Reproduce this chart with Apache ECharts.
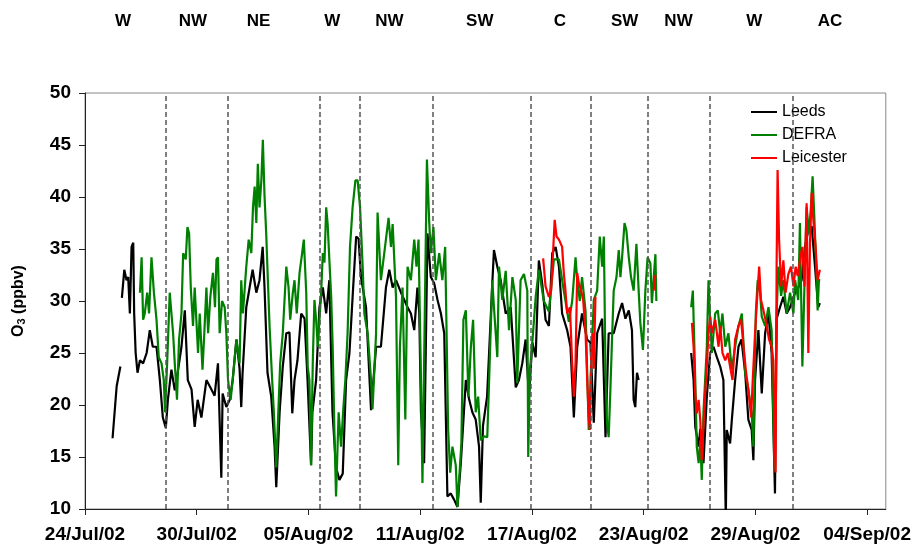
<!DOCTYPE html>
<html>
<head>
<meta charset="utf-8">
<script src="https://cdn.jsdelivr.net/npm/echarts@6/dist/echarts.min.js"></script>
<style>
html,body{margin:0;padding:0;background:#fff;}
#chart{width:914px;height:546px;}
</style>
</head>
<body>
<div id="chart"></div>
<script>
// x = days since 24/Jul/02 00:00, y = O3 (ppbv)
const tickLabels = ['24/Jul/02','30/Jul/02','05/Aug/02','11/Aug/02','17/Aug/02','23/Aug/02','29/Aug/02','04/Sep/02'];
const tickDays = [0, 6, 12, 18, 24, 30, 36, 42];
const sectorBounds = [4.32, 7.64, 12.59, 14.73, 18.70, 23.93, 27.14, 30.23, 33.53, 38.03];
const windLabels = ['W','NW','NE','W','NW','SW','C','SW','NW','W','AC'];
const windDays = [2.04, 5.79, 9.32, 13.28, 16.34, 21.2, 25.5, 28.98, 31.87, 35.94, 40.0];

const leeds = [
[1.48,16.8],[1.70,21.8],[1.90,23.7],[1.94,null],
[1.98,30.3],[2.11,33.0],[2.23,32.0],[2.32,32.3],[2.41,28.8],[2.50,35.2],[2.59,35.6],[2.64,28.8],[2.72,25.0],[2.82,23.1],
[2.95,24.3],[3.12,24.0],[3.31,25.0],[3.48,27.2],[3.64,25.6],[3.84,25.6],[4.02,22.4],[4.18,18.8],[4.34,17.8],[4.45,20.5],
[4.64,23.4],[4.82,21.4],[5.00,23.4],[5.18,25.6],[5.36,29.1],[5.52,22.4],[5.72,21.5],[5.89,17.9],[6.05,20.5],[6.25,18.8],
[6.52,22.4],[6.79,21.5],[6.96,20.9],[7.14,24.0],[7.32,13.0],[7.39,21.1],[7.59,19.8],[7.77,20.5],[7.93,22.4],[8.13,26.3],
[8.30,23.5],[8.39,19.8],[8.46,23.0],[8.66,29.4],[8.84,31.3],[9.00,33.0],[9.20,30.8],[9.37,32.0],[9.54,35.2],[9.64,31.3],
[9.80,23.1],[10.00,20.8],[10.18,16.0],[10.27,12.1],[10.45,19.3],[10.62,23.7],[10.81,26.9],[10.98,27.0],[11.13,19.2],[11.25,22.4],
[11.41,24.3],[11.61,28.8],[11.79,28.3],[11.95,22.4],[12.14,14.2],[12.21,19.3],[12.41,22.4],[12.59,29.4],[12.77,31.3],[12.95,28.8],
[13.12,32.0],[13.29,19.3],[13.48,14.0],[13.66,12.8],[13.84,13.4],[14.02,22.4],[14.20,25.0],[14.37,30.4],[14.56,36.2],[14.69,36.0],
[14.82,32.3],[15.09,29.4],[15.36,19.5],[15.63,25.6],[15.89,25.6],[16.16,31.3],[16.34,33.0],[16.52,31.3],[16.70,32.0],[16.97,30.8],
[17.32,29.4],[17.50,28.8],[17.68,27.2],[17.85,31.3],[17.95,28.8],[18.04,19.3],[18.21,14.4],[18.39,36.5],[18.57,32.3],[18.75,31.7],
[18.93,30.1],[19.11,28.8],[19.29,26.9],[19.46,11.2],[19.64,11.5],[19.82,10.9],[20.00,10.2],[20.18,14.4],[20.45,22.4],[20.62,20.6],
[20.80,19.3],[20.98,18.6],[21.16,16.0],[21.25,10.6],[21.37,18.0],[21.59,20.8],[21.86,31.3],[21.96,34.9],[22.14,33.3],[22.32,32.0],
[22.59,28.8],[22.86,29.4],[23.13,21.7],[23.30,22.4],[23.48,24.0],[23.66,26.3],[23.84,20.8],[24.02,26.0],[24.20,24.6],[24.37,33.9],
[24.55,31.7],[24.73,28.2],[24.91,27.6],[25.09,34.6],[25.27,35.2],[25.45,33.3],[25.62,28.8],[25.89,27.2],[26.07,25.6],[26.25,18.8],
[26.43,25.6],[26.69,28.8],[26.96,26.3],[27.14,26.0],[27.32,18.3],[27.50,26.9],[27.77,28.3],[27.95,16.9],[28.12,26.9],[28.39,26.9],
[28.66,28.8],[28.84,29.8],[29.02,28.3],[29.20,29.1],[29.37,27.2],[29.46,20.5],[29.55,19.8],[29.64,23.1],[29.73,22.4],[31.0,null],
[32.55,25.0],[32.68,22.4],[32.77,17.9],[32.95,16.0],[33.04,17.7],[33.21,14.4],[33.39,20.8],[33.57,25.0],[33.75,25.6],[33.93,24.6],
[34.11,23.7],[34.28,22.4],[34.41,9.0],[34.46,17.6],[34.64,16.3],[34.73,18.5],[34.91,22.4],[35.09,25.6],[35.25,26.3],[35.45,23.1],
[35.62,18.6],[35.80,17.6],[35.89,14.7],[35.98,22.4],[36.16,27.2],[36.34,21.1],[36.52,26.9],[36.70,28.8],[36.87,25.0],[37.05,11.5],
[37.14,28.3],[37.32,29.4],[37.50,30.4],[37.68,28.8],[37.86,29.4],[38.13,30.8],[38.30,31.3],[38.48,32.0],[38.66,35.2],[38.84,36.8],
[39.02,37.2],[39.20,33.3],[39.37,29.4],[39.46,29.8]
];

const defra = [
[2.95,30.8],[3.04,34.2],[3.12,28.2],[3.21,28.8],[3.34,30.8],[3.44,28.8],[3.57,34.2],[3.70,30.8],[3.84,28.2],[3.96,24.6],
[4.11,24.0],[4.23,22.4],[4.30,19.3],[4.41,24.0],[4.55,30.8],[4.73,26.9],[4.82,24.0],[4.94,20.5],[5.05,26.3],[5.18,28.8],
[5.27,34.6],[5.41,34.0],[5.50,37.1],[5.59,36.5],[5.68,31.3],[5.80,27.6],[5.89,31.3],[6.07,25.0],[6.16,28.8],[6.31,23.4],
[6.39,26.3],[6.52,31.3],[6.61,26.9],[6.73,30.4],[6.87,32.7],[6.98,29.4],[7.06,34.0],[7.14,34.2],[7.23,26.9],[7.36,30.0],
[7.50,29.4],[7.59,26.9],[7.68,22.4],[7.82,20.5],[7.93,22.4],[8.13,26.3],[8.30,24.0],[8.39,32.0],[8.48,28.8],[8.66,33.3],
[8.79,35.9],[8.93,34.6],[9.02,39.0],[9.11,41.0],[9.20,37.5],[9.28,43.2],[9.37,39.0],[9.47,41.6],[9.55,45.5],[9.64,40.1],
[9.73,36.5],[9.82,32.0],[9.91,27.6],[10.03,23.1],[10.14,19.3],[10.27,14.0],[10.38,19.3],[10.48,24.0],[10.62,26.9],[10.81,33.3],
[10.93,31.3],[11.02,28.2],[11.16,30.8],[11.25,32.0],[11.37,28.8],[11.52,32.7],[11.66,34.6],[11.75,35.9],[11.88,30.8],[11.96,23.7],
[12.05,22.4],[12.14,14.2],[12.23,24.0],[12.32,30.1],[12.41,28.2],[12.50,25.6],[12.68,30.8],[12.77,34.6],[12.86,33.7],[12.95,39.0],
[13.03,37.4],[13.12,34.0],[13.22,30.4],[13.30,25.6],[13.39,17.6],[13.48,11.2],[13.62,19.3],[13.75,16.0],[13.87,19.6],[13.98,22.4],
[14.10,26.9],[14.23,35.2],[14.37,39.0],[14.52,41.6],[14.64,41.6],[14.77,39.0],[14.91,33.3],[15.00,28.8],[15.18,26.9],[15.36,22.4],
[15.44,19.6],[15.63,26.9],[15.71,38.5],[15.89,32.0],[16.07,34.6],[16.30,38.0],[16.43,35.2],[16.52,37.4],[16.70,30.4],[16.82,14.2],
[16.91,25.6],[17.05,31.3],[17.20,18.6],[17.32,33.3],[17.50,32.0],[17.68,35.9],[17.80,33.3],[17.91,35.9],[18.04,22.4],[18.12,12.5],
[18.27,32.0],[18.36,43.6],[18.48,37.7],[18.57,34.6],[18.71,37.1],[18.84,32.0],[19.02,34.6],[19.19,32.0],[19.34,35.2],[19.41,27.6],
[19.50,17.6],[19.61,13.5],[19.73,16.0],[19.91,14.2],[20.00,10.2],[20.09,12.8],[20.21,16.3],[20.32,28.2],[20.45,29.1],[20.59,20.8],
[20.72,25.6],[20.84,28.2],[20.98,19.3],[21.11,20.8],[21.25,16.6],[21.43,17.0],[21.60,16.9],[21.70,22.4],[21.87,32.0],[21.96,29.4],
[22.14,24.6],[22.23,33.3],[22.41,30.1],[22.59,32.9],[22.77,27.2],[22.95,32.3],[23.13,30.1],[23.21,22.1],[23.39,32.0],[23.57,32.6],
[23.75,31.0],[23.80,15.0],[23.89,23.4],[24.02,26.0],[24.20,30.4],[24.37,33.0],[24.64,30.0],[24.91,29.0],[25.18,34.0],[25.45,34.0],
[25.71,31.0],[25.98,28.0],[26.16,30.0],[26.34,34.2],[26.43,32.0],[26.57,30.0],[26.69,32.3],[26.88,29.0],[27.05,17.6],[27.23,26.0],
[27.32,30.1],[27.50,31.0],[27.64,36.2],[27.77,33.3],[27.86,36.2],[27.95,23.1],[28.03,18.3],[28.12,16.9],[28.21,21.4],[28.30,26.3],
[28.39,31.0],[28.54,32.3],[28.66,34.9],[28.75,32.3],[28.84,34.2],[28.97,37.5],[29.07,36.8],[29.20,34.2],[29.32,32.3],[29.46,31.0],
[29.61,35.5],[29.73,31.0],[29.82,27.9],[29.96,25.3],[30.09,31.0],[30.21,34.2],[30.36,33.6],[30.44,29.8],[30.54,32.3],[30.63,34.5],
[30.68,30.0],[31.5,null],
[32.55,29.4],[32.64,31.0],[32.77,22.4],[32.85,16.0],[32.95,14.4],[33.04,16.6],[33.12,12.8],[33.21,19.3],[33.30,22.4],[33.39,25.6],
[33.48,32.0],[33.57,28.2],[33.66,25.0],[33.84,28.8],[33.98,29.1],[34.11,26.9],[34.23,28.8],[34.38,25.6],[34.55,26.9],[34.73,23.4],
[34.91,25.6],[35.09,27.6],[35.27,28.8],[35.45,23.1],[35.62,21.5],[35.80,19.3],[35.89,16.0],[36.02,28.8],[36.12,32.0],[36.25,30.8],
[36.34,28.5],[36.52,27.6],[36.70,29.4],[36.87,27.2],[37.02,13.7],[37.14,28.8],[37.23,33.3],[37.38,30.5],[37.50,32.0],[37.68,28.8],
[37.86,30.8],[38.04,28.8],[38.13,32.0],[38.30,30.1],[38.39,37.5],[38.52,23.7],[38.66,33.3],[38.75,39.0],[38.88,36.5],[38.98,39.0],
[39.07,42.0],[39.16,38.2],[39.25,34.0],[39.34,29.1],[39.41,32.0],[39.48,32.0]
];

const leicester = [
[24.60,34.1],[24.73,31.4],[24.91,30.4],[25.03,31.0],[25.14,34.9],[25.22,37.8],[25.32,36.2],[25.45,35.9],[25.62,35.2],[25.71,32.7],
[25.80,31.0],[25.89,28.8],[26.04,29.4],[26.16,24.0],[26.25,20.8],[26.34,24.0],[26.43,32.7],[26.52,31.7],[26.64,31.0],[26.75,30.1],
[26.88,26.9],[26.96,22.7],[27.05,18.8],[27.11,17.6],[27.18,24.6],[27.27,26.9],[27.32,23.5],[27.41,30.4],[28.0,null],
[30.54,31.0],[30.63,32.5],[31.5,null],
[32.59,27.9],[32.68,25.6],[32.77,21.1],[32.85,19.2],[32.95,20.5],[33.04,18.5],[33.12,14.7],[33.21,17.9],[33.30,21.1],[33.39,23.7],
[33.48,26.9],[33.57,28.5],[33.66,26.9],[33.84,28.2],[34.02,25.6],[34.11,27.6],[34.23,25.0],[34.38,24.3],[34.52,25.0],[34.64,23.7],
[34.77,22.4],[34.91,26.3],[35.09,27.6],[35.23,28.2],[35.36,25.6],[35.50,23.1],[35.62,21.5],[35.77,18.8],[35.84,21.8],[35.98,26.9],
[36.11,30.8],[36.20,33.3],[36.30,30.1],[36.43,29.1],[36.61,27.6],[36.73,26.3],[36.87,25.6],[36.96,24.3],[37.08,13.5],[37.14,33.9],
[37.19,42.6],[37.27,35.9],[37.38,31.4],[37.50,33.9],[37.62,30.8],[37.77,32.6],[37.91,33.3],[38.04,31.4],[38.16,33.3],[38.27,32.4],
[38.39,33.9],[38.52,35.2],[38.63,31.4],[38.75,39.4],[38.84,25.0],[38.93,35.5],[39.02,40.4],[39.11,37.8],[39.23,35.2],[39.34,32.0],
[39.46,33.0]
];

const FONT = "'Liberation Sans', Arial, sans-serif";
const chart = echarts.init(document.getElementById('chart'), null, {renderer: 'canvas'});

const option = {
  animation: false,
  backgroundColor: '#ffffff',
  grid: {left: 85, right: 27, top: 93, bottom: 37, show: true, borderColor: '#888', borderWidth: 1, backgroundColor: 'transparent'},
  legend: {
    orient: 'vertical', left: 751, top: 104, itemWidth: 26, itemHeight: 2, itemGap: 7, icon: 'rect', padding: 0,
    textStyle: {fontFamily: FONT, fontSize: 16, color: '#000', lineHeight: 16},
    data: ['Leeds', 'DEFRA', 'Leicester']
  },
  xAxis: {
    type: 'value', min: 0, max: 43,
    splitLine: {show: false},
    axisLine: {lineStyle: {color: '#222', width: 1}},
    axisTick: {show: true, length: 6, lineStyle: {color: '#222'}, customValues: tickDays},
    axisLabel: {
      customValues: tickDays, margin: 16,
      fontFamily: FONT, fontSize: 19, fontWeight: 'bold', color: '#000',
      formatter: function (v) { const i = tickDays.indexOf(v); return i >= 0 ? tickLabels[i] : ''; }
    }
  },
  yAxis: {
    type: 'value', min: 10, max: 50, interval: 5,
    splitLine: {show: false},
    axisLine: {show: true, lineStyle: {color: '#222', width: 1}},
    axisTick: {show: true, length: 6, lineStyle: {color: '#222'}},
    axisLabel: {fontFamily: FONT, fontSize: 19, fontWeight: 'bold', color: '#000', margin: 14},
    name: 'O{s|3} (ppbv)', nameLocation: 'middle', nameGap: 58, nameRotate: 90,
    nameTextStyle: {fontFamily: FONT, fontSize: 16, fontWeight: 'bold', color: '#000',
      rich: {s: {fontFamily: FONT, fontSize: 11, fontWeight: 'bold', color: '#000', verticalAlign: 'bottom', padding: [6, 0, 0, 0]}}}
  },
  series: [
    {
      name: 'Leeds', type: 'line', data: leeds, showSymbol: false, symbol: 'none',
      lineStyle: {color: '#000000', width: 2.2}, itemStyle: {color: '#000000'}, connectNulls: false,
      markLine: {
        silent: true, symbol: ['none', 'none'], label: {show: false},
        lineStyle: {color: '#555', width: 1.5, type: [5, 3]},
        data: sectorBounds.map(function (d) { return {xAxis: d}; })
      }
    },
    {
      name: 'DEFRA', type: 'line', data: defra, showSymbol: false, symbol: 'none',
      lineStyle: {color: '#008000', width: 2.2}, itemStyle: {color: '#008000'}, connectNulls: false
    },
    {
      name: 'Leicester', type: 'line', data: leicester, showSymbol: false, symbol: 'none',
      lineStyle: {color: '#ff0000', width: 2.2}, itemStyle: {color: '#ff0000'}, connectNulls: false
    }
  ]
};
chart.setOption(option);

const texts = windLabels.map(function (t, i) {
  const px = chart.convertToPixel({xAxisIndex: 0}, windDays[i]);
  return {
    type: 'text', x: px, y: 21,
    style: {text: t, fontFamily: FONT, fontSize: 17, fontWeight: 'bold', fill: '#000', align: 'center', verticalAlign: 'middle'}
  };
});
chart.setOption({graphic: texts});
</script>
</body>
</html>
